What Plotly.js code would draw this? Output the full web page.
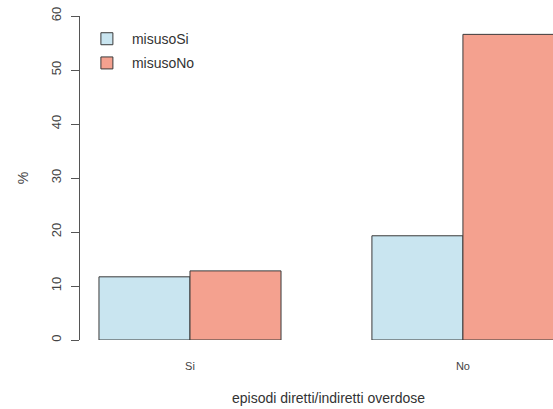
<!DOCTYPE html>
<html>
<head>
<meta charset="utf-8">
<script src="https://cdn.plot.ly/plotly-3.0.1.min.js"></script>
<style>html,body{margin:0;padding:0;background:#fff;}#chart{width:553px;height:409px;}</style>
</head>
<body>
<div id="chart"></div>
<script>
const categories = ["Si", "No"];
const seriesNames = ["misusoSi", "misusoNo"];
const misusoSi = [11.7, 19.3];
const misusoNo = [12.8, 56.6];
const yTicks = [0, 10, 20, 30, 40, 50, 60];
const xTitle = "episodi diretti/indiretti overdose";
const yTitle = "%";

const colors = ["#c9e5f0", "#f4a18f"];
const values = [misusoSi, misusoNo];

const traces = seriesNames.map((name, i) => ({
  type: "bar",
  name: name,
  x: categories,
  y: values[i],
  legendgroup: name,
  marker: { color: colors[i], line: { color: "#3a3a3a", width: 1 } },
  hoverinfo: "skip"
}));

const font = "Liberation Sans, Arial, sans-serif";

const layout = {
  width: 553,
  height: 409,
  margin: { l: 80, r: 0, t: 16, b: 69 },
  paper_bgcolor: "#fff",
  plot_bgcolor: "#fff",
  barmode: "group",
  bargap: 0.333,
  bargroupgap: 0,
  showlegend: true,
  legend: {
    x: 0.004, y: 0.978, xanchor: "left", yanchor: "top",
    font: { family: font, size: 14, color: "#333" },
    bgcolor: "rgba(0,0,0,0)",
    traceorder: "grouped",
    tracegroupgap: 3,
    itemwidth: 40
  },
  xaxis: {
    type: "category",
    range: [-0.403, 1.33],
    showline: false, showgrid: false, zeroline: false,
    ticks: "",
    ticklabelstandoff: 18,
    tickfont: { family: font, size: 11, color: "#444" }
  },
  yaxis: {
    range: [0, 60],
    tickvals: yTicks,
    ticktext: yTicks.map(String),
    tickangle: -90,
    showline: true, linecolor: "#555", linewidth: 1,
    ticks: "outside", ticklen: 8, tickcolor: "#555",
    showgrid: false, zeroline: false,
    ticklabelstandoff: 5,
    tickfont: { family: font, size: 13, color: "#444" },
    title: { text: yTitle, standoff: 16, font: { family: font, size: 14, color: "#444" } }
  },
  annotations: [{
    text: xTitle, xref: "paper", yref: "paper",
    x: 0.525, y: -0.179, xanchor: "center", yanchor: "middle",
    showarrow: false, font: { family: font, size: 14, color: "#333" }
  }]
};

Plotly.newPlot("chart", traces, layout, { displayModeBar: false, staticPlot: true });
</script>
</body>
</html>
